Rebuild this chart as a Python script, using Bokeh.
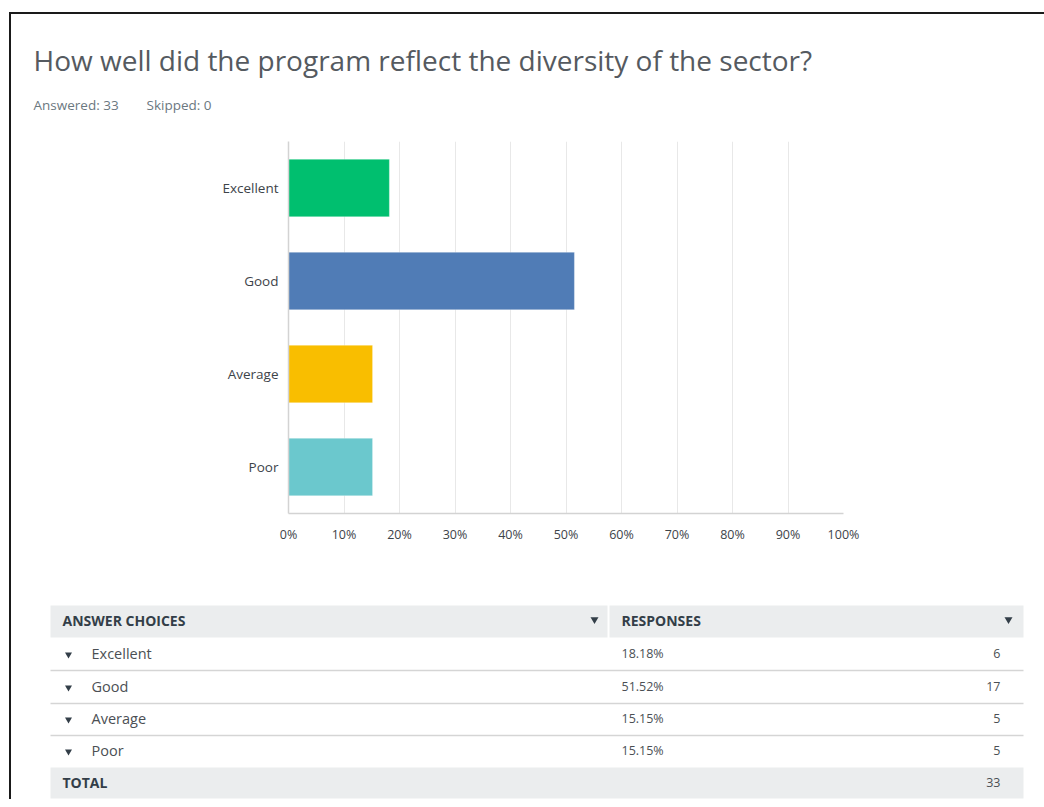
from bokeh.plotting import figure
from bokeh.layouts import column
from bokeh.models import Range1d, FactorRange, FixedTicker
from bokeh.core.properties import value
from bokeh.embed import file_html
from bokeh.resources import INLINE

# ---------------- data ----------------
title_text = "How well did the program reflect the diversity of the sector?"
answered = 33
skipped = 0
categories = ["Excellent", "Good", "Average", "Poor"]
percents = [18.18, 51.52, 15.15, 15.15]
counts = [6, 17, 5, 5]
colors = ["#00bf6f", "#507cb6", "#f9be00", "#6bc8cd"]
tick_values = [0, 10, 20, 30, 40, 50, 60, 70, 80, 90, 100]
tick_labels = ["0%", "10%", "20%", "30%", "40%", "50%", "60%", "70%", "80%", "90%", "100%"]
table_headers = ["ANSWER CHOICES", "RESPONSES"]
total_label = "TOTAL"
total_count = 33

FONT = "Open Sans"
W = 1033


def blank(h):
    f = figure(width=W, height=h, x_range=Range1d(0, W), y_range=Range1d(h, 0),
               output_backend="svg", toolbar_location=None,
               x_axis_type=None, y_axis_type=None, min_border=0, frame_align=False)
    f.grid.visible = False
    f.outline_line_color = None
    f.background_fill_color = "white"
    f.border_fill_color = "white"
    return f


# ---------------- header ----------------
HA = 126
fa = blank(HA)
fa.text(x=[22], y=[45], text=[title_text], text_font=value(FONT),
        text_font_size="28px", text_color="#555a60", text_baseline="middle", text_align="left")
fa.text(x=[22, 135], y=[90, 90], text=[f"Answered: {answered}", f"Skipped: {skipped}"],
        text_font=value(FONT), text_font_size="13.5px", text_color="#6b787f",
        text_baseline="middle", text_align="left")

# ---------------- bar chart ----------------
HB = 450
fb = figure(width=W, height=HB, x_range=Range1d(0, 100),
            y_range=FactorRange(*list(reversed(categories))),
            output_backend="svg", toolbar_location=None, frame_align=False,
            min_border_top=1, min_border_bottom=77, min_border_left=277,
            min_border_right=W - 832)
fb.outline_line_color = None
fb.background_fill_color = "white"
fb.border_fill_color = "white"
fb.hbar(y=categories, right=percents, left=0, height=0.62, fill_color=colors,
        line_color="white", line_alpha=0.35, line_width=1)

fb.xaxis.ticker = FixedTicker(ticks=tick_values)
fb.xaxis.major_label_overrides = {v: l for v, l in zip(tick_values, tick_labels)}
for ax in (fb.xaxis[0], fb.yaxis[0]):
    ax.axis_line_color = "#d3d3d3"
    ax.axis_line_width = 1.5
    ax.major_tick_line_color = None
    ax.minor_tick_line_color = None
    ax.major_tick_out = 0
    ax.major_tick_in = 0
    ax.major_label_text_font = FONT
    ax.major_label_text_color = "#3d4349"
fb.xaxis.major_label_text_font_size = "12.5px"
fb.yaxis.major_label_text_font_size = "13.5px"
fb.xaxis.major_label_standoff = 12
fb.yaxis.major_label_standoff = 10
fb.xgrid.ticker = FixedTicker(ticks=tick_values)
fb.xgrid.grid_line_color = "#e8e8e8"
fb.xgrid.grid_line_width = 1
fb.ygrid.visible = False

# ---------------- table ----------------
HC = 209
fc = blank(HC)
fc.quad(left=[39, 598], right=[596, 1012], top=[15, 15], bottom=[47, 47],
        fill_color="#ebedee", line_color=None)
fc.quad(left=[39], right=[1012], top=[177], bottom=[208], fill_color="#ebedee", line_color=None)
fc.text(x=[51, 610], y=[30, 30], text=table_headers, text_font=value(FONT),
        text_font_size="14px", text_font_style="bold", text_color="#333e48",
        text_baseline="middle", text_align="left")
fc.scatter(x=[583, 997], y=[29, 29], marker="inverted_triangle", size=8,
           fill_color="#333e48", line_color=None)
row_y = [63, 96, 128, 160]
sep_y = [80, 113, 145]
fc.segment(x0=[39] * len(sep_y), x1=[1012] * len(sep_y), y0=sep_y, y1=sep_y,
           line_color="#d5d5d5", line_width=1.5)
fc.scatter(x=[57] * len(row_y), y=[r + 1 for r in row_y], marker="inverted_triangle", size=7,
           fill_color="#333e48", line_color=None)
fc.text(x=[80] * len(row_y), y=row_y, text=categories, text_font=value(FONT),
        text_font_size="14.5px", text_color="#4b4f54", text_baseline="middle", text_align="left")
fc.text(x=[610] * len(row_y), y=row_y, text=[f"{p:.2f}%" for p in percents],
        text_font=value(FONT), text_font_size="12.5px", text_color="#4b4f54",
        text_baseline="middle", text_align="left")
fc.text(x=[989] * len(row_y), y=row_y, text=[str(c) for c in counts],
        text_font=value(FONT), text_font_size="12.5px", text_color="#4b4f54",
        text_baseline="middle", text_align="right")
fc.text(x=[51], y=[192], text=[total_label], text_font=value(FONT), text_font_size="14px",
        text_font_style="bold", text_color="#333e48", text_baseline="middle", text_align="left")
fc.text(x=[989], y=[192], text=[str(total_count)], text_font=value(FONT), text_font_size="12.5px",
        text_color="#4b4f54", text_baseline="middle", text_align="right")

layout = column(fa, fb, fc, spacing=0,
                styles={"margin-top": "12px", "margin-left": "9px",
                        "border-top": "2px solid #1a1a1a",
                        "border-left": "2px solid #1a1a1a"})

open("out.html", "w").write(file_html(layout, INLINE))
